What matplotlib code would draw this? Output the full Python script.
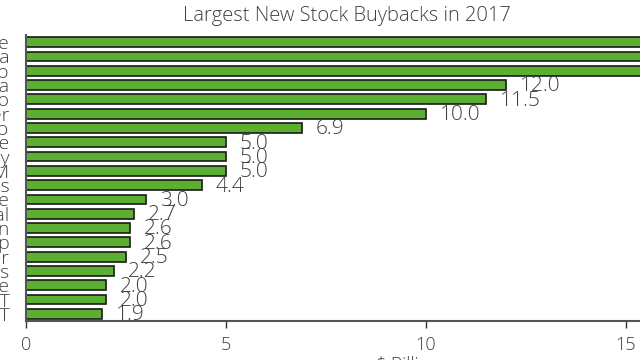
import matplotlib.pyplot as plt

companies = ["JPMorgan Chase", "Bank of America", "Citigroup", "Visa", "Wells Fargo",
             "Pfizer", "Cisco", "Capital One", "Morgan Stanley", "3M",
             "Goldman Sachs", "Allstate", "Prudential", "Amgen", "US Bancorp",
             "Danaher", "Southwest Airlines", "Intercontinental Exchange", "AT&T", "BB&T"]
buybacks = [19.4, 17.0, 15.6, 12.0, 11.5,
            10.0, 6.9, 5.0, 5.0, 5.0,
            4.4, 3.0, 2.7, 2.6, 2.6,
            2.5, 2.2, 2.0, 2.0, 1.9]
xticks = [0, 5, 10, 15]

plt.rcParams['font.family'] = ['Open Sans', 'DejaVu Sans']
text_color = "#404040"

fig = plt.figure(figsize=(6.4, 3.6), dpi=100)
# the visible area is a crop: axes run past the right edge of the figure
ax = fig.add_axes([26 / 640, 39 / 360, 772 / 640, 286 / 360])

y = list(range(len(companies)))[::-1]
ax.barh(y, buybacks, height=0.68, color="#5bb033", edgecolor="#1a1a1a", linewidth=1.2)

for yi, v in zip(y, buybacks):
    ax.annotate(f"{v:.1f}", (v, yi), xytext=(10, -1), textcoords="offset points",
                va="center", ha="left", fontsize=15, color=text_color, fontweight="light")

ax.set_xlim(0, 19.3)
ax.set_ylim(-0.5, len(companies) - 0.5)
ax.set_yticks(y)
ax.set_yticklabels(companies, fontsize=14, color=text_color, fontweight="light")
ax.tick_params(axis="y", length=0, pad=12)
ax.set_xticks(xticks)
ax.tick_params(axis="x", length=5, width=1, colors="#333333", labelcolor=text_color,
               labelsize=13, pad=6)
for lbl in ax.get_xticklabels():
    lbl.set_fontweight("light")
ax.set_xlabel("\\$ Billions", fontsize=13, color=text_color, labelpad=1, fontweight="light")

for s in ["top", "right"]:
    ax.spines[s].set_visible(False)
for s in ["left", "bottom"]:
    ax.spines[s].set_color("#555555")
    ax.spines[s].set_linewidth(1.5)

fig.text(347 / 640, 1 - 16 / 360, "Largest New Stock Buybacks in 2017", ha="center", va="center",
         fontsize=14.5, color=text_color, fontweight="light")

fig.savefig("out.png", dpi=100)
